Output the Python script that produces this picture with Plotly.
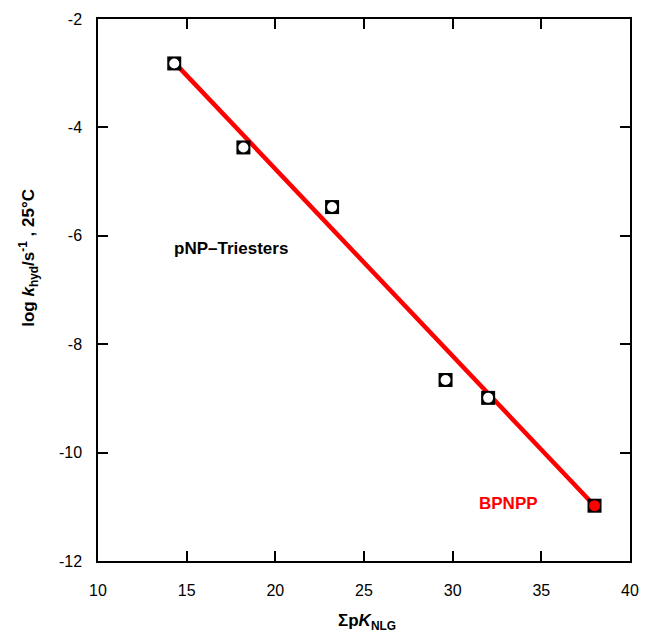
import plotly.graph_objects as go

# data
sum_pK = [14.3, 18.2, 23.2, 29.6, 32.0]
log_k = [-2.82, -4.37, -5.47, -8.66, -8.99]
bpnpp_x = [38.0]
bpnpp_y = [-10.98]
fit_x = [14.3, 38.0]
fit_y = [-2.80, -10.98]
x_ticks = [10, 15, 20, 25, 30, 35, 40]
y_ticks = [-12, -10, -8, -6, -4, -2]

FONT = "Liberation Sans, Arial, sans-serif"

fig = go.Figure()
fig.add_trace(go.Scatter(x=fit_x, y=fit_y, mode="lines",
                         line=dict(color="#ff0000", width=4.5), showlegend=False))
fig.add_trace(go.Scatter(x=sum_pK, y=log_k, mode="markers",
                         marker=dict(symbol="square", size=14, color="black"), showlegend=False))
fig.add_trace(go.Scatter(x=sum_pK, y=log_k, mode="markers",
                         marker=dict(symbol="circle", size=10, color="white"), showlegend=False))
fig.add_trace(go.Scatter(x=bpnpp_x, y=bpnpp_y, mode="markers",
                         marker=dict(symbol="square", size=14, color="black"), showlegend=False))
fig.add_trace(go.Scatter(x=bpnpp_x, y=bpnpp_y, mode="markers",
                         marker=dict(symbol="circle", size=11, color="#ff0000"), showlegend=False))

fig.add_annotation(x=17.49, y=-6.23, text="<b>pNP\u2013Triesters</b>", showarrow=False,
                   font=dict(family=FONT, size=17, color="black"))
fig.add_annotation(x=33.13, y=-10.93, text="<b>BPNPP</b>", showarrow=False,
                   font=dict(family=FONT, size=17, color="#ff0000"))

# axis titles
fig.add_annotation(xref="paper", yref="paper", x=-0.131, y=0.56, textangle=-90,
                   xanchor="center", yanchor="middle", showarrow=False,
                   text="<b>log <i>k</i><sub>hyd</sub>/s<sup>-1</sup> , 25\u00b0C</b>",
                   font=dict(family=FONT, size=17, color="black"))
fig.add_annotation(xref="paper", yref="paper", x=0.505, y=-0.112,
                   xanchor="center", yanchor="middle", showarrow=False,
                   text="<b>\u03a3p<i>K</i><sub>NLG</sub></b>",
                   font=dict(family=FONT, size=17, color="black"))

axis_common = dict(showgrid=False, zeroline=False, showline=True, linecolor="black",
                   linewidth=1.5, mirror="ticks", ticks="inside", ticklen=10, tickwidth=1.5,
                   tickcolor="black", tickfont=dict(family=FONT, size=16, color="black"))
fig.update_xaxes(range=[10, 40], tickvals=x_ticks, ticktext=[str(v) for v in x_ticks],
                 ticklabelstandoff=14, **axis_common)
fig.update_yaxes(range=[-12, -2], tickvals=y_ticks, ticktext=[str(v) for v in y_ticks],
                 ticklabelstandoff=11, **axis_common)
fig.update_layout(width=650, height=641, plot_bgcolor="white", paper_bgcolor="white",
                  margin=dict(l=98, r=11, t=19, b=80))
fig.write_html("out.html", config={"displayModeBar": False},
               post_script="document.body.style.margin='0px';document.body.style.overflow='hidden';")
